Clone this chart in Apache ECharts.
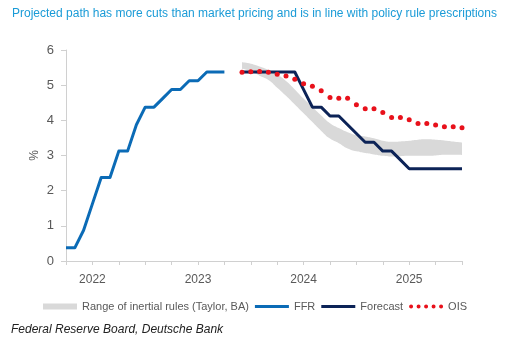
<!DOCTYPE html>
<html><head><meta charset="utf-8">
<script src="https://cdn.jsdelivr.net/npm/echarts@6/dist/echarts.min.js"></script>
<style>html,body{margin:0;padding:0;background:#fff}#c{width:508px;height:345px}</style>
</head><body><div id="c"></div>
<script>
// Monthly categories: Mar 2022 .. Dec 2025
const months = [];
for (let i = 0; i < 46; i++) {
  const k = 2 + i; // months since Jan 2022
  months.push((2022 + Math.floor(k / 12)) + '-' + String(k % 12 + 1).padStart(2, '0'));
}
const yTicks = [0, 1, 2, 3, 4, 5, 6];

// FFR: Mar 2022 .. Sep 2023
const ffr = [0.375, 0.375, 0.875, 1.625, 2.375, 2.375, 3.125, 3.125, 3.875, 4.375,
  4.375, 4.625, 4.875, 4.875, 5.125, 5.125, 5.375, 5.375, 5.375];
// Projections: Nov 2023 .. Dec 2025
const projStart = 20;
const forecast = [5.375, 5.375, 5.375, 5.375, 5.375, 5.375, 5.375, 4.875, 4.375, 4.375,
  4.125, 4.125, 3.875, 3.625, 3.375, 3.375, 3.125, 3.125, 2.875, 2.625,
  2.625, 2.625, 2.625, 2.625, 2.625, 2.625];
const ois = [5.37, 5.38, 5.39, 5.37, 5.31, 5.26, 5.17, 5.04, 4.97, 4.84,
  4.65, 4.63, 4.63, 4.44, 4.33, 4.33, 4.22, 4.08, 4.08, 4.02,
  3.91, 3.91, 3.87, 3.82, 3.82, 3.79];
const bandHigh = [5.65, 5.61, 5.53, 5.43, 5.30, 5.12, 4.88, 4.62, 4.38, 4.14,
  3.92, 3.78, 3.66, 3.58, 3.54, 3.49, 3.42, 3.39, 3.40, 3.42,
  3.45, 3.46, 3.45, 3.43, 3.40, 3.37];
const bandLow = [5.47, 5.40, 5.27, 5.15, 4.93, 4.70, 4.45, 4.20, 3.95, 3.70,
  3.48, 3.35, 3.20, 3.12, 3.07, 3.03, 2.99, 2.97, 2.98, 2.99,
  2.99, 2.99, 3.00, 3.02, 3.02, 3.01];

const pad = (arr, start) => new Array(start).fill(null).concat(arr);
const bandDiff = bandHigh.map((v, i) => +(v - bandLow[i]).toFixed(3));

const FONT = 'Liberation Sans';
const GREY = '#595959';
const bandName = 'Range of inertial rules (Taylor, BA)';
const dotsIcon = 'path://' + [2, 9.5, 17, 24.5, 32].map(c =>
  `M${c - 2},2 A2,2 0 1,0 ${c + 2},2 A2,2 0 1,0 ${c - 2},2 Z`).join(' ');
const lineIcon = 'path://M0,0 L36,0 L36,3 L0,3 Z';

const chart = echarts.init(document.getElementById('c'), null, {renderer: 'canvas'});
chart.setOption({
  animation: false,
  textStyle: {fontFamily: FONT},
  title: [
    {text: 'Projected path has more cuts than market pricing and is in line with policy rule prescriptions',
     left: 12, top: 8, padding: 0, textStyle: {fontSize: 12, fontWeight: 'normal', color: '#1a9bd7', fontFamily: FONT}},
    {text: 'Federal Reserve Board, Deutsche Bank', left: 11, top: 324, padding: 0,
     textStyle: {fontSize: 12, fontWeight: 'normal', fontStyle: 'italic', color: '#222', fontFamily: FONT}}
  ],
  legend: {
    left: 43, top: 301, padding: 0, itemWidth: 34, itemHeight: 6, itemGap: 6,
    textStyle: {fontSize: 11, color: GREY, fontFamily: FONT},
    data: [
      {name: bandName, icon: 'rect'},
      {name: 'FFR', icon: lineIcon},
      {name: 'Forecast', icon: lineIcon},
      {name: 'OIS', icon: dotsIcon}
    ]
  },
  grid: {left: 66, right: 46, top: 50, bottom: 84, containLabel: false},
  xAxis: {
    type: 'category', data: months, boundaryGap: false,
    axisLine: {lineStyle: {color: '#d0d0d0'}},
    axisTick: {show: true, interval: 2, length: 4, lineStyle: {color: '#d0d0d0'}},
    axisLabel: {interval: (i) => i % 12 === 3, formatter: (v) => v.slice(0, 4),
      color: GREY, fontSize: 12, margin: 13, fontFamily: FONT}
  },
  yAxis: {
    type: 'value', min: yTicks[0], max: yTicks[yTicks.length - 1], interval: 1,
    name: '%', nameLocation: 'middle', nameGap: 25, nameRotate: 90, nameMoveOverlap: false,
    nameTextStyle: {color: GREY, fontSize: 12, fontFamily: FONT},
    axisLine: {show: true, lineStyle: {color: '#d0d0d0'}},
    axisTick: {show: true, length: 5, lineStyle: {color: '#d0d0d0'}},
    splitLine: {show: false},
    axisLabel: {color: GREY, fontSize: 13, margin: 12, fontFamily: FONT}
  },
  series: [
    {name: 'bandLow', type: 'line', stack: 'band', data: pad(bandLow, projStart), smooth: 0.5,
     symbol: 'none', lineStyle: {width: 0, opacity: 0}, silent: true},
    {name: bandName, type: 'line', stack: 'band', data: pad(bandDiff, projStart), smooth: 0.5,
     symbol: 'none', color: '#d9d9d9', lineStyle: {width: 0, opacity: 0},
     areaStyle: {color: '#d9d9d9', opacity: 1}},
    {name: 'FFR', type: 'line', data: ffr, symbol: 'none', color: '#0b6bb6',
     lineStyle: {width: 3, color: '#0b6bb6', join: 'round'}},
    {name: 'Forecast', type: 'line', data: pad(forecast, projStart), symbol: 'none', color: '#0c2357',
     lineStyle: {width: 3, color: '#0c2357', join: 'round'}},
    {name: 'OIS', type: 'line', data: pad(ois, projStart), symbol: 'circle', symbolSize: 5,
     showAllSymbol: true, color: '#e8111b', itemStyle: {color: '#e8111b'},
     lineStyle: {width: 0, opacity: 0}}
  ]
});
</script></body></html>
